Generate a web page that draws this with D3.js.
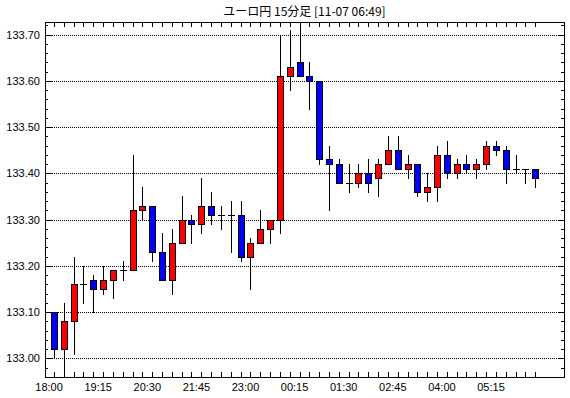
<!DOCTYPE html>
<html>
<head>
<meta charset="utf-8">
<script src="https://cdn.jsdelivr.net/npm/d3@7"></script>
<style>
  body { margin: 0; background: #fff; }
  text { font-family: "Liberation Sans", Arial, sans-serif; font-size: 11px; fill: #000; }
</style>
</head>
<body>
<div id="chart"></div>
<script>
const chartTitle = 'ユーロ円 15分足 [11-07 06:49]';

const times = [
  '18:00','18:15','18:30','18:45','19:00','19:15','19:30','19:45','20:00','20:15',
  '20:30','20:45','21:00','21:15','21:30','21:45','22:00','22:15','22:30','22:45',
  '23:00','23:15','23:30','23:45','00:00','00:15','00:30','00:45','01:00','01:15',
  '01:30','01:45','02:00','02:15','02:30','02:45','03:00','03:15','03:30','03:45',
  '04:00','04:15','04:30','04:45','05:00','05:15','05:30','05:45','06:00','06:15'
];

const open = [
  133.10,133.02,133.08,133.16,133.17,133.15,133.17,133.19,133.19,133.32,
  133.33,133.23,133.17,133.25,133.30,133.29,133.33,133.31,133.31,133.31,
  133.22,133.25,133.28,133.30,133.61,133.64,133.61,133.60,133.43,133.42,
  133.38,133.38,133.40,133.39,133.42,133.45,133.41,133.42,133.36,133.37,
  133.44,133.40,133.42,133.41,133.42,133.46,133.45,133.41,133.41,133.41
];
const high = [
  133.10,133.12,133.22,133.20,133.18,133.20,133.19,133.21,133.44,133.37,
  133.33,133.27,133.28,133.35,133.31,133.39,133.36,133.33,133.34,133.34,
  133.26,133.32,133.30,133.70,133.71,133.72,133.64,133.60,133.46,133.43,
  133.42,133.42,133.43,133.43,133.48,133.48,133.44,133.42,133.40,133.46,
  133.47,133.43,133.44,133.43,133.47,133.47,133.46,133.44,133.41,133.41
];
const low = [
  133.00,132.97,133.01,133.12,133.10,133.14,133.13,133.17,133.19,133.30,
  133.21,133.17,133.14,133.25,133.25,133.27,133.29,133.28,133.23,133.21,
  133.15,133.25,133.25,133.27,133.58,133.61,133.54,133.42,133.32,133.38,
  133.36,133.37,133.36,133.35,133.42,133.41,133.39,133.35,133.34,133.34,
  133.39,133.39,133.40,133.39,133.41,133.44,133.38,133.40,133.38,133.37
];
const close = [
  133.02,133.08,133.16,133.16,133.15,133.17,133.19,133.19,133.32,133.33,
  133.23,133.17,133.25,133.30,133.29,133.33,133.31,133.31,133.31,133.22,
  133.25,133.28,133.30,133.61,133.63,133.61,133.60,133.43,133.42,133.38,
  133.38,133.40,133.38,133.42,133.45,133.41,133.42,133.36,133.37,133.44,
  133.40,133.42,133.41,133.42,133.46,133.45,133.41,133.41,133.41,133.39
];

const xTickLabels = ['18:00','19:15','20:30','21:45','23:00','00:15','01:30','02:45','04:00','05:15'];
const yTickValues = [133.00,133.10,133.20,133.30,133.40,133.50,133.60,133.70];

const width = 570, height = 398;
const plotLeft = 45, plotRight = 564, plotTop = 22, plotBottom = 377;

const svg = d3.select('#chart').append('svg')
  .attr('width', width)
  .attr('height', height)
  .attr('shape-rendering', 'crispEdges');

svg.append('rect').attr('width', width).attr('height', height).attr('fill', '#fff');

const x = d3.scaleBand()
  .domain(times)
  .range([49.6, 49.6 + times.length * 9.82])
  .padding(0);

const y = d3.scaleLinear()
  .domain([132.9596, 133.7272])
  .range([plotBottom, plotTop]);

const cx = t => Math.floor(x(t) + x.bandwidth() / 2);
const py = v => Math.round(y(v));

// dotted grid lines + major ticks
const grid = svg.append('g');
yTickValues.forEach(v => {
  const yy = py(v) + 0.5;
  grid.append('line')
    .attr('x1', plotLeft + 7).attr('x2', plotRight - 6)
    .attr('y1', yy).attr('y2', yy)
    .attr('stroke', '#000').attr('stroke-dasharray', '1,1');
  grid.append('line')
    .attr('x1', plotLeft).attr('x2', plotLeft + 7)
    .attr('y1', yy).attr('y2', yy).attr('stroke', '#000');
  grid.append('line')
    .attr('x1', plotRight - 6).attr('x2', plotRight)
    .attr('y1', yy).attr('y2', yy).attr('stroke', '#000');
});

// minor y ticks every 0.02
const minor = d3.range(132.96, 133.73, 0.02);
minor.forEach(v => {
  const yy = py(v) + 0.5;
  grid.append('line').attr('x1', plotLeft).attr('x2', plotLeft + 3)
    .attr('y1', yy).attr('y2', yy).attr('stroke', '#000');
  grid.append('line').attr('x1', plotRight - 3).attr('x2', plotRight)
    .attr('y1', yy).attr('y2', yy).attr('stroke', '#000');
});

// x ticks top and bottom at each candle
times.forEach(t => {
  const xx = cx(t) + 0.5;
  grid.append('line').attr('x1', xx).attr('x2', xx)
    .attr('y1', plotBottom - 5).attr('y2', plotBottom).attr('stroke', '#000');
  grid.append('line').attr('x1', xx).attr('x2', xx)
    .attr('y1', plotTop).attr('y2', plotTop + 5).attr('stroke', '#000');
});

// frame
svg.append('rect')
  .attr('x', plotLeft + 0.5).attr('y', plotTop + 0.5)
  .attr('width', plotRight - plotLeft).attr('height', plotBottom - plotTop)
  .attr('fill', 'none').attr('stroke', '#000');

// candles
const candles = svg.append('g');
times.forEach((t, i) => {
  const c = cx(t);
  candles.append('line')
    .attr('x1', c + 0.5).attr('x2', c + 0.5)
    .attr('y1', py(high[i])).attr('y2', py(low[i]) + 1)
    .attr('stroke', '#000');
  const top = py(Math.max(open[i], close[i]));
  const bot = py(Math.min(open[i], close[i]));
  if (bot - top < 1) {
    candles.append('line')
      .attr('x1', c - 3).attr('x2', c + 4)
      .attr('y1', top + 0.5).attr('y2', top + 0.5)
      .attr('stroke', '#000');
  } else {
    candles.append('rect')
      .attr('x', c - 2.5).attr('y', top + 0.5)
      .attr('width', 6).attr('height', bot - top)
      .attr('fill', close[i] > open[i] ? '#ff0000' : '#0000ff')
      .attr('stroke', '#000');
  }
});

// y labels
svg.append('g').selectAll('text')
  .data(yTickValues)
  .join('text')
  .attr('x', 40)
  .attr('y', d => py(d) + 4)
  .attr('text-anchor', 'end')
  .text(d => d.toFixed(2));

// x labels
svg.append('g').selectAll('text')
  .data(xTickLabels)
  .join('text')
  .attr('x', d => x(d) - 0.5)
  .attr('y', 391)
  .attr('text-anchor', 'middle')
  .text(d => d);

svg.append('text')
  .attr('x', (plotLeft + plotRight) / 2)
  .attr('y', 16)
  .attr('text-anchor', 'middle')
  .style('font-family', '"Noto Sans CJK JP", sans-serif')
  .style('font-size', '12px')
  .text(chartTitle);
</script>
</body>
</html>
